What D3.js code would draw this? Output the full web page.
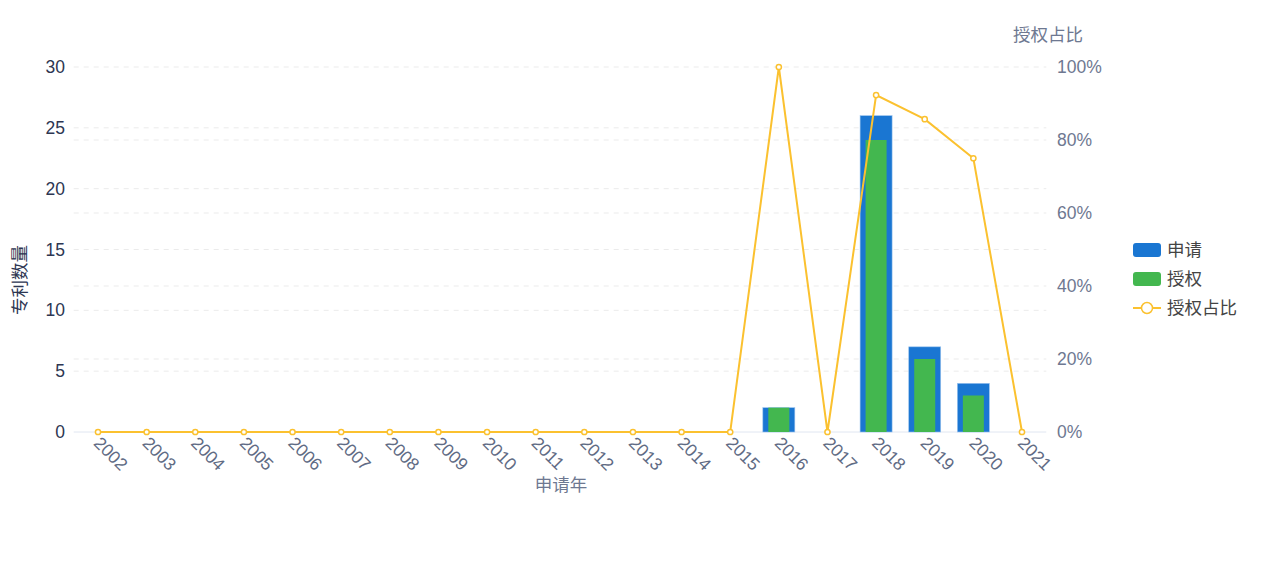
<!DOCTYPE html>
<html><head><meta charset="utf-8">
<script src="https://cdn.jsdelivr.net/npm/d3@7"></script>
<style>body{margin:0;background:#fff}svg{font-family:"Liberation Sans",Arial,"Noto Sans CJK SC",sans-serif}</style>
</head><body>
<svg id="c" width="1266" height="561"></svg>
<script>
const years = ["2002","2003","2004","2005","2006","2007","2008","2009","2010","2011","2012","2013","2014","2015","2016","2017","2018","2019","2020","2021"];
const applied = [0,0,0,0,0,0,0,0,0,0,0,0,0,0,2,0,26,7,4,0];
const granted = [0,0,0,0,0,0,0,0,0,0,0,0,0,0,2,0,24,6,3,0];
const ratio = [0,0,0,0,0,0,0,0,0,0,0,0,0,0,1,0,0.923,0.857,0.75,0];
const leftTicks = [0,5,10,15,20,25,30];
const rightTicks = [0,0.2,0.4,0.6,0.8,1];
const seriesNames = ["申请","授权","授权占比"];

const svg = d3.select("#c");
const L = 73.7, R = 1046.3, T = 67, B = 432;
const x = d3.scaleBand().domain(years).range([L,R]);
const yL = d3.scaleLinear().domain([0,30]).range([B,T]);
const yR = d3.scaleLinear().domain([0,1]).range([B,T]);
const blue="#1a76d2", green="#43b74f", gold="#fbc12f";
const cjk = "'Noto Sans CJK SC',sans-serif";

// grids
const g = svg.append("g");
g.selectAll(".gl").data(leftTicks.slice(1)).join("line")
 .attr("x1",L).attr("x2",R).attr("y1",d=>yL(d)).attr("y2",d=>yL(d))
 .attr("stroke","#ebebeb").attr("stroke-dasharray","5,5");
g.selectAll(".gr").data(rightTicks.slice(1,5)).join("line")
 .attr("x1",L).attr("x2",R).attr("y1",d=>yR(d)).attr("y2",d=>yR(d))
 .attr("stroke","#ebebeb").attr("stroke-dasharray","5,5");

// axis line
svg.append("line").attr("x1",L).attr("x2",R).attr("y1",B).attr("y2",B).attr("stroke","#e0e6f1");

// left ticks
svg.append("g").selectAll("text").data(leftTicks).join("text")
 .attr("x",65).attr("y",d=>yL(d)).attr("dy","0.35em").attr("text-anchor","end")
 .attr("font-size",17.5).attr("fill","#2d3652").text(d=>d);
// right ticks
svg.append("g").selectAll("text").data(rightTicks).join("text")
 .attr("x",1057).attr("y",d=>yR(d)).attr("dy","0.35em").attr("text-anchor","start")
 .attr("font-size",17.5).attr("fill","#6e7891").text(d=>d3.format(".0%")(d));

// x labels
svg.append("g").selectAll("text").data(years).join("text")
 .attr("transform",d=>`translate(${x(d)+x.bandwidth()/2+1},${B+6}) rotate(45)`)
 .attr("text-anchor","start").attr("dy","0.5em")
 .attr("font-size",17.5).attr("fill","#5f6b84").text(d=>d);

// axis names
svg.append("text").attr("x",1048).attr("y",41).attr("text-anchor","middle")
 .attr("font-family",cjk).attr("font-size",17.5).attr("fill","#6e7891").text("授权占比");
svg.append("text").attr("transform","translate(26,280) rotate(-90)").attr("text-anchor","middle")
 .attr("font-family",cjk).attr("font-size",17.5).attr("fill","#2d3652").text("专利数量");
svg.append("text").attr("x",561).attr("y",491).attr("text-anchor","middle")
 .attr("font-family",cjk).attr("font-size",17.5).attr("fill","#6e7891").text("申请年");

// bars
const bw = 32, gw = 21;
svg.append("g").selectAll("rect").data(years.map((y,i)=>({y,v:applied[i]})).filter(d=>d.v>0)).join("rect")
 .attr("x",d=>x(d.y)+x.bandwidth()/2-bw/2).attr("width",bw)
 .attr("y",d=>yL(d.v)).attr("height",d=>B-yL(d.v))
 .attr("fill",blue).attr("stroke","#9cc4ee").attr("stroke-width",0.6);
svg.append("g").selectAll("rect").data(years.map((y,i)=>({y,v:granted[i]})).filter(d=>d.v>0)).join("rect")
 .attr("x",d=>x(d.y)+x.bandwidth()/2-gw/2).attr("width",gw)
 .attr("y",d=>yL(d.v)).attr("height",d=>B-yL(d.v))
 .attr("fill",green);

// line
const pts = years.map((y,i)=>[x(y)+x.bandwidth()/2, yR(ratio[i])]);
svg.append("path").attr("d",d3.line()(pts)).attr("fill","none").attr("stroke",gold).attr("stroke-width",2);
svg.append("g").selectAll("circle").data(pts).join("circle")
 .attr("cx",d=>d[0]).attr("cy",d=>d[1]).attr("r",2.6)
 .attr("fill","#fff").attr("stroke",gold).attr("stroke-width",1.5);

// legend
const lg = svg.append("g");
const ly = [250,279,308];
lg.append("rect").attr("x",1133).attr("y",ly[0]-7).attr("width",28).attr("height",14).attr("rx",3).attr("fill",blue);
lg.append("rect").attr("x",1133).attr("y",ly[1]-7).attr("width",28).attr("height",14).attr("rx",3).attr("fill",green);
lg.append("line").attr("x1",1133).attr("x2",1161).attr("y1",ly[2]).attr("y2",ly[2]).attr("stroke",gold).attr("stroke-width",2);
lg.append("circle").attr("cx",1147).attr("cy",ly[2]).attr("r",5.5).attr("fill","#fff").attr("stroke",gold).attr("stroke-width",1.5);
lg.selectAll("text").data(seriesNames).join("text")
 .attr("x",1167).attr("y",(d,i)=>ly[i]).attr("dy","0.35em")
 .attr("font-family",cjk).attr("font-size",17.5).attr("fill","#444").text(d=>d);
</script>
</body></html>
